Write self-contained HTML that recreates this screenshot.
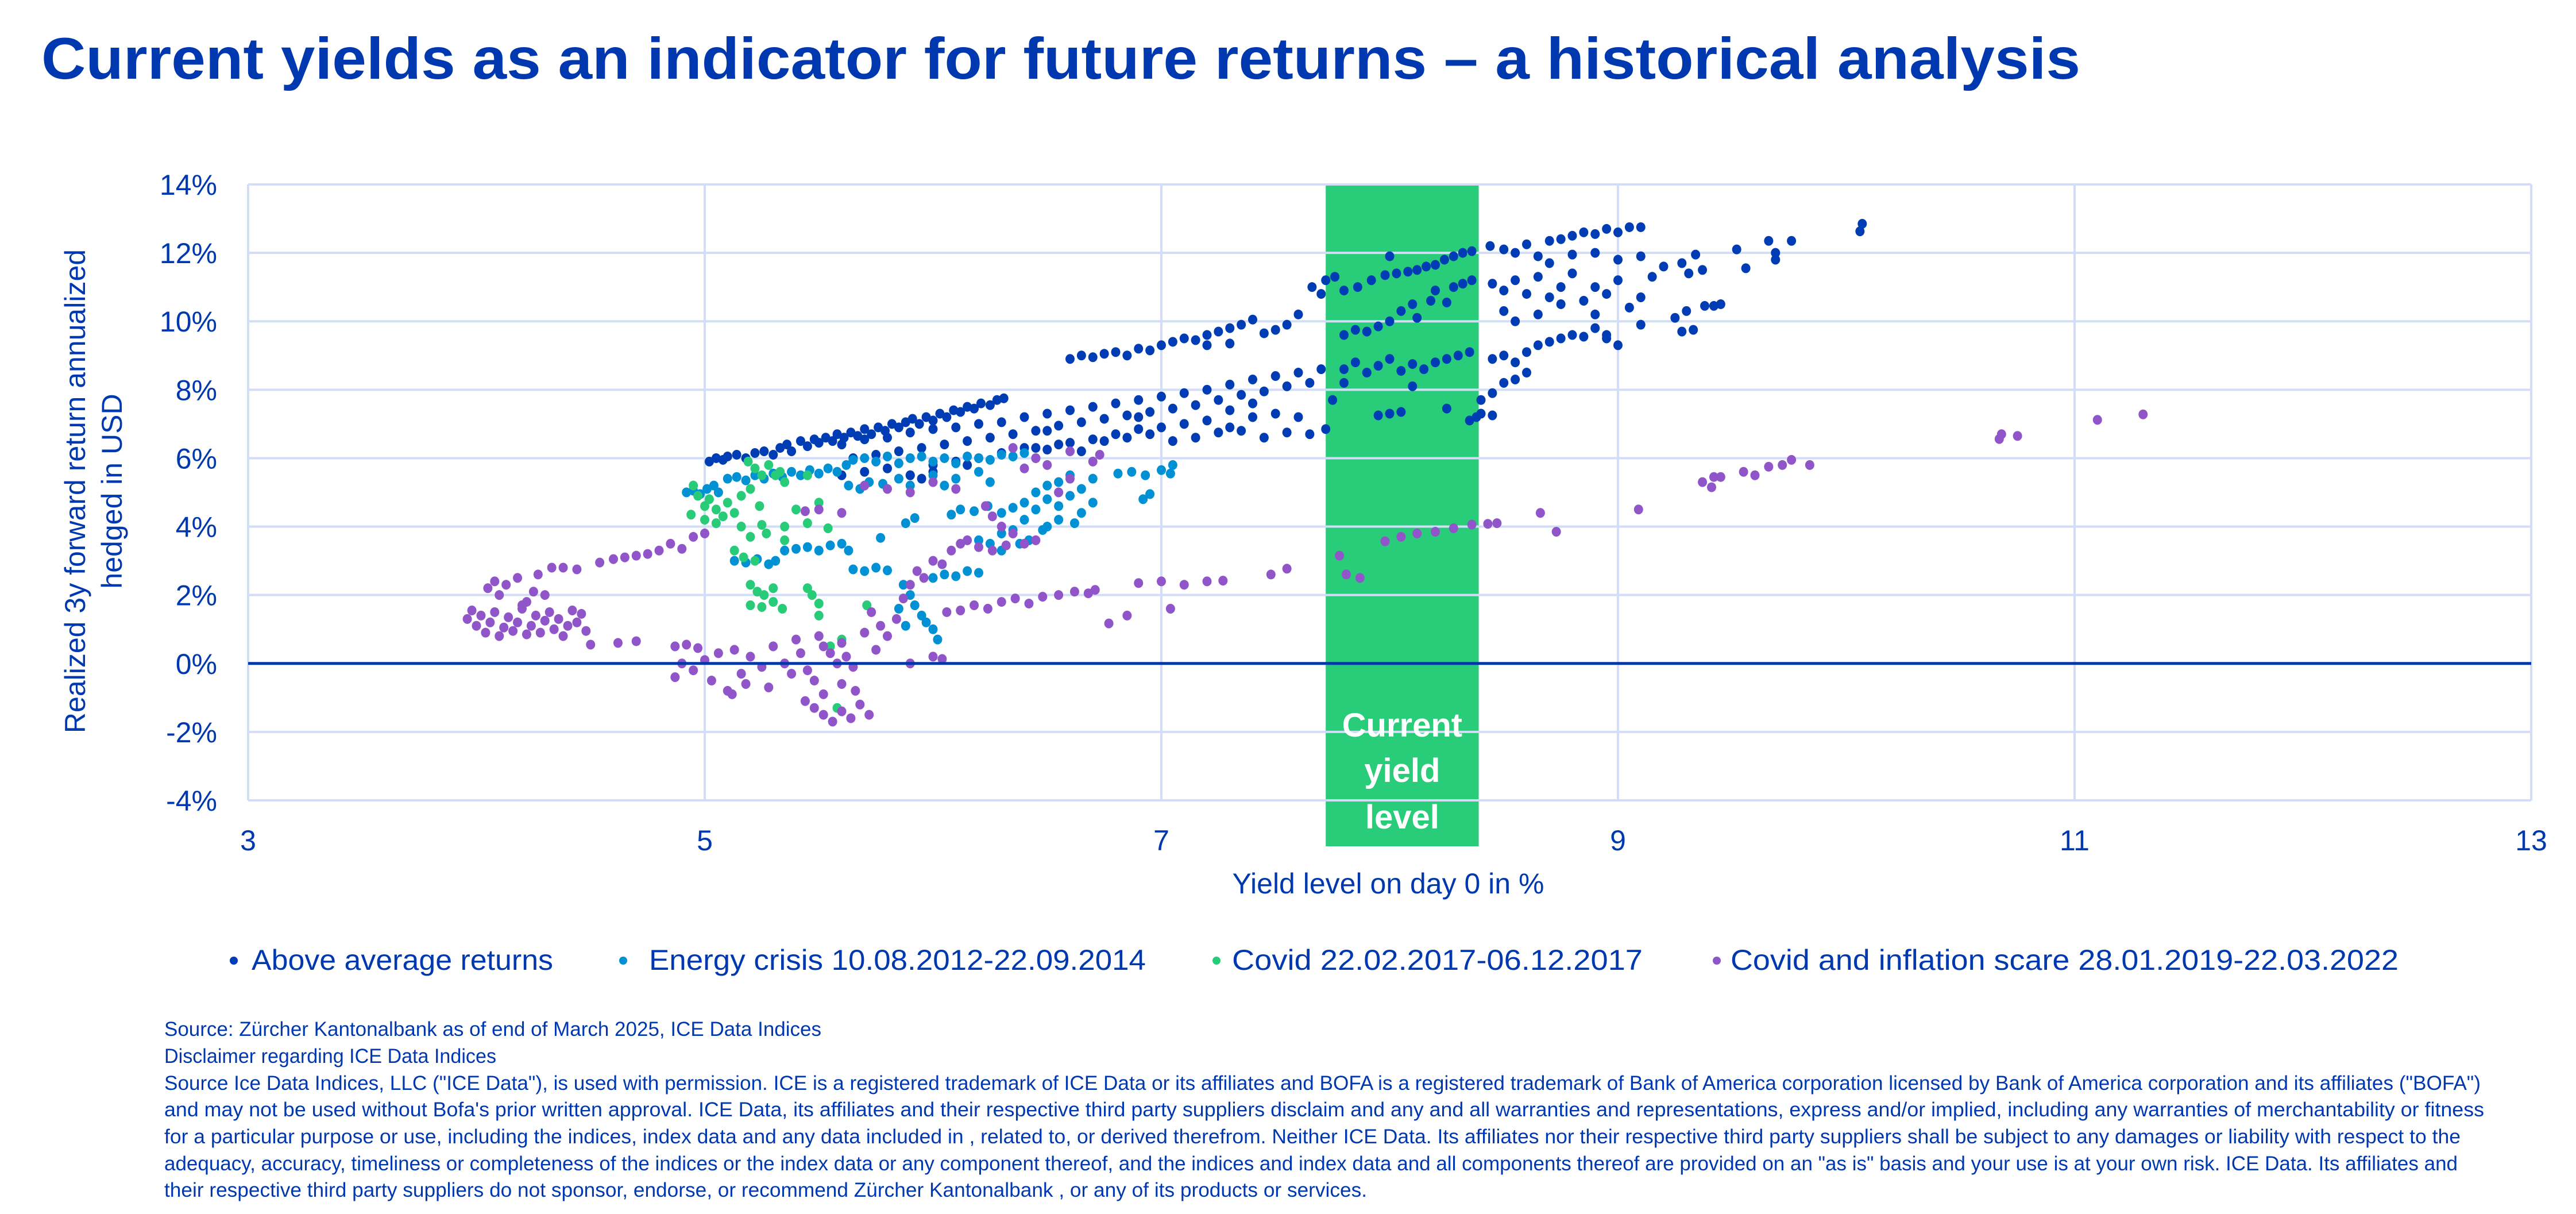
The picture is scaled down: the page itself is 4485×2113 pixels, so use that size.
<!DOCTYPE html>
<html><head><meta charset="utf-8"><style>
html,body{margin:0;padding:0;background:#fff;}
svg{display:block;font-family:"Liberation Sans",sans-serif;}
</style></head><body>
<svg id="chart" width="4485" height="2113" viewBox="0 0 4485 2113" xmlns="http://www.w3.org/2000/svg">
<text x="72" y="137" font-size="102" font-weight="bold" fill="#0038b0" textLength="3550" lengthAdjust="spacingAndGlyphs">Current yields as an indicator for future returns – a historical analysis</text>
<g id="grid"></g>
<rect id="band" fill="#29cc78"></rect>
<g id="gridOver"></g>
<g id="points"></g>
<line id="zeroLine" stroke="#0036a8" stroke-width="5"></line>
<g id="bandText" font-size="58" font-weight="bold" fill="#fff" text-anchor="middle"></g>
<g id="ticks" fill="#0038b0" font-size="50"></g>
<text x="2417" y="1555" font-size="50" fill="#0038b0" text-anchor="middle">Yield level on day 0 in %</text>
<g transform="translate(0,855) rotate(-90)" fill="#0038b0" font-size="50" text-anchor="middle">
<text x="0" y="148">Realized 3y forward return annualized</text>
<text x="0" y="212">hedged in USD</text>
</g>
<g font-size="50" fill="#0038b0">
<g><circle cx="407" cy="1672" r="7" fill="#003cb4"/><text x="438" y="1688" textLength="525" lengthAdjust="spacingAndGlyphs">Above average returns</text></g>
<g><circle cx="1085" cy="1672" r="7" fill="#0090d4"/><text x="1130" y="1688" textLength="865" lengthAdjust="spacingAndGlyphs">Energy crisis 10.08.2012-22.09.2014</text></g>
<g><circle cx="2118" cy="1672" r="7" fill="#28cc78"/><text x="2145" y="1688" textLength="715" lengthAdjust="spacingAndGlyphs">Covid 22.02.2017-06.12.2017</text></g>
<g><circle cx="2989" cy="1672" r="7" fill="#9055c8"/><text x="3013" y="1688" textLength="1163" lengthAdjust="spacingAndGlyphs">Covid and inflation scare 28.01.2019-22.03.2022</text></g>
</g>
<g font-size="35" fill="#0038b0">
<text x="286" y="1803" textLength="1144" lengthAdjust="spacingAndGlyphs">Source: Zürcher Kantonalbank as of end of March 2025, ICE Data Indices</text>
<text x="286" y="1850" textLength="578" lengthAdjust="spacingAndGlyphs">Disclaimer regarding ICE Data Indices</text>
<text x="286" y="1897" textLength="4033" lengthAdjust="spacingAndGlyphs">Source Ice Data Indices, LLC ("ICE Data"), is used with permission. ICE is a registered trademark of ICE Data or its affiliates and BOFA is a registered trademark of Bank of America corporation licensed by Bank of America corporation and its affiliates ("BOFA")</text>
<text x="286" y="1943" textLength="4039" lengthAdjust="spacingAndGlyphs">and may not be used without Bofa's prior written approval. ICE Data, its affiliates and their respective third party suppliers disclaim and any and all warranties and representations, express and/or implied, including any warranties of merchantability or fitness</text>
<text x="286" y="1990" textLength="3998" lengthAdjust="spacingAndGlyphs">for a particular purpose or use, including the indices, index data and any data included in , related to, or derived therefrom. Neither ICE Data. Its affiliates nor their respective third party suppliers shall be subject to any damages or liability with respect to the</text>
<text x="286" y="2037" textLength="3993" lengthAdjust="spacingAndGlyphs">adequacy, accuracy, timeliness or completeness of the indices or the index data or any component thereof, and the indices and index data and all components thereof are provided on an "as is" basis and your use is at your own risk. ICE Data. Its affiliates and</text>
<text x="286" y="2083" textLength="2094" lengthAdjust="spacingAndGlyphs">their respective third party suppliers do not sponsor, endorse, or recommend Zürcher Kantonalbank , or any of its products or services.</text>
</g>
</svg>
<script>
const xTicks = [3, 5, 7, 9, 11, 13];
const yTicks = [-4, -2, 0, 2, 4, 6, 8, 10, 12, 14];
const bandRange = [7.72, 8.39];
const aboveAvg = [
[5.02,5.9],[5.05,6.0],[5.08,5.95],[5.1,6.05],[5.14,6.1],[5.18,6.0],[5.22,6.15],[5.26,6.2],[5.3,6.1],[5.33,6.3],[5.36,6.4],[5.38,6.2],[5.42,6.5],[5.45,6.35],[5.48,6.55],[5.5,6.45],[5.53,6.6],[5.56,6.5],[5.58,6.7],[5.61,6.6],[5.64,6.75],[5.67,6.65],[5.7,6.85],[5.73,6.7],[5.76,6.9],[5.79,6.8],[5.82,7.0],[5.85,6.9],[5.88,7.05],[5.91,7.15],[5.94,7.0],[5.97,7.2],[6.0,7.1],[6.03,7.3],[6.06,7.2],[6.09,7.4],[6.12,7.35],[6.15,7.5],[6.18,7.45],[6.21,7.6],[6.25,7.55],[6.28,7.7],[6.31,7.75],
[5.6,6.4],[5.7,6.55],[5.8,6.6],[5.9,6.75],[6.0,6.85],[6.1,6.9],[6.2,7.0],[6.3,7.05],[6.4,7.2],[6.5,7.3],[6.6,7.4],[6.7,7.5],[6.8,7.6],[6.9,7.7],[7.0,7.8],[7.1,7.9],[7.2,8.0],[7.3,8.15],[7.4,8.3],[7.5,8.4],[7.6,8.5],[7.7,8.6],
[5.65,6.0],[5.75,6.1],[5.85,6.2],[5.95,6.3],[6.05,6.4],[6.15,6.5],[6.25,6.6],[6.35,6.7],[6.45,6.8],[6.55,6.95],[6.65,7.05],[6.75,7.15],[6.85,7.25],[6.95,7.35],[7.05,7.45],[7.15,7.55],[7.25,7.7],[7.35,7.85],[7.45,7.95],[7.55,8.1],[7.65,8.2],
[5.6,5.5],[5.7,5.6],[5.8,5.7],[5.9,5.5],[6.0,5.8],[6.1,5.9],[6.2,6.0],[6.3,6.15],[6.4,6.3],[6.5,6.25],[6.6,6.45],[6.7,6.55],[6.8,6.7],[6.9,6.85],[7.0,6.9],[7.1,7.0],[7.2,7.1],[7.3,6.9],[7.4,7.2],[7.5,7.3],[7.6,7.2],
[6.45,6.3],[6.55,6.4],[6.65,6.2],[6.75,6.5],[6.85,6.6],[6.95,6.7],[7.05,6.5],[7.15,6.6],[7.25,6.75],[7.35,6.8],[7.45,6.6],[7.55,6.75],[7.65,6.7],[7.72,6.85],
[5.9,5.5],[5.95,5.4],[6.0,5.6],[6.15,5.8],[6.5,6.8],[6.9,7.2],[7.3,7.4],[7.4,7.6],
[7.8,8.6],[7.85,8.8],[7.9,8.5],[7.95,8.7],[8.0,8.9],[8.05,8.55],[8.1,8.75],[8.15,8.6],[8.2,8.8],[8.25,8.9],[8.3,9.0],[8.35,9.1],
[7.75,7.7],[7.95,7.25],[8.0,7.3],[8.05,7.35],[8.25,7.45],[8.35,7.1],[8.38,7.2],[8.4,7.7],[7.8,8.2],[8.1,8.1],
[7.8,9.6],[7.85,9.75],[7.9,9.7],[7.95,9.85],[8.0,10.0],[8.05,10.3],[8.1,10.5],[8.12,10.1],[8.18,10.6],[8.2,10.9],[8.25,10.55],[8.28,11.0],[8.32,11.1],[8.36,11.2],
[7.66,11.0],[7.7,10.8],[7.72,11.2],[7.76,11.3],[7.8,10.9],[7.86,11.0],[7.92,11.2],[7.98,11.35],[8.03,11.4],[8.08,11.45],[8.12,11.5],[8.16,11.6],[8.2,11.65],[8.24,11.8],[8.28,11.9],[8.32,12.0],[8.36,12.05],[8.0,11.9],
[6.6,8.9],[6.65,9.0],[6.7,8.95],[6.75,9.05],[6.8,9.1],[6.85,9.0],[6.9,9.2],[6.95,9.15],[7.0,9.3],[7.05,9.4],[7.1,9.5],[7.15,9.45],[7.2,9.6],[7.25,9.7],[7.3,9.8],[7.35,9.9],[7.4,10.05],[7.45,9.65],[7.5,9.75],[7.55,9.9],[7.6,10.2],[7.2,9.3],[7.3,9.35],
[8.44,12.2],[8.5,12.1],[8.55,12.0],[8.6,12.25],[8.65,11.9],[8.7,12.35],[8.75,12.4],[8.8,12.5],[8.85,12.6],[8.9,12.55],[8.95,12.7],[9.0,12.6],[9.05,12.75],[9.1,12.75],[8.7,11.7],[8.8,11.95],[8.9,12.0],[9.0,11.8],[9.1,11.9],
[8.45,11.1],[8.5,10.9],[8.55,11.2],[8.6,10.8],[8.65,11.3],[8.7,10.7],[8.75,11.0],[8.8,11.4],[8.85,10.6],[8.9,11.0],[8.95,10.8],[9.0,11.2],[9.05,10.4],[9.1,10.7],[9.15,11.3],[9.2,11.6],[8.5,10.3],[8.55,10.0],[8.65,10.2],[8.75,10.5],[8.9,10.2],[9.0,9.3],[8.95,9.5],[9.1,9.9],
[8.45,8.9],[8.5,9.0],[8.55,8.8],[8.6,9.1],[8.65,9.3],[8.7,9.4],[8.75,9.5],[8.8,9.6],[8.85,9.55],[8.9,9.8],[8.95,9.6],[8.45,7.9],[8.5,8.2],[8.55,8.3],[8.6,8.5],[8.4,7.3],[8.45,7.25],
[9.25,10.1],[9.28,9.7],[9.33,9.75],[9.3,10.3],[9.38,10.45],[9.42,10.45],[9.45,10.5],[9.28,11.7],[9.31,11.4],[9.34,11.95],[9.37,11.5],[9.52,12.1],[9.56,11.55],[9.66,12.35],[9.69,12.0],[9.69,11.8],[9.76,12.35],[10.06,12.63],[10.07,12.85]
];
const energyCrisis = [
[4.92,5.0],[4.95,5.05],[4.98,4.95],[5.01,5.1],[5.04,5.2],[5.06,5.0],[5.1,5.4],[5.14,5.45],[5.18,5.35],[5.22,5.5],[5.26,5.4],[5.3,5.55],[5.34,5.45],[5.38,5.6],[5.42,5.5],[5.46,5.65],[5.5,5.55],[5.54,5.7],[5.58,5.6],[5.62,5.8],[5.65,5.95],[5.7,6.0],[5.75,5.9],[5.8,6.05],[5.85,5.85],[5.9,6.0],[5.95,6.05],[6.0,5.9],[6.05,6.0],[6.1,5.85],[6.15,6.05],[6.2,6.0],[6.25,5.95],[6.3,6.1],[6.35,6.05],[6.4,6.15],[6.45,6.0],[5.63,5.2],[5.68,5.1],[5.72,5.3],[5.78,5.25],[5.85,5.4],[5.9,5.2],[6.0,5.5],[6.05,5.2],[6.1,5.4],[6.2,5.6],[6.25,5.3],
[6.08,4.35],[6.12,4.5],[6.18,4.45],[6.24,4.6],[6.3,4.4],[6.35,4.55],[6.4,4.7],[6.45,4.5],[6.5,4.8],[6.55,4.6],[6.6,4.9],[6.65,4.4],[6.7,4.7],[6.45,5.0],[6.5,5.2],[6.55,5.3],[6.6,5.5],[6.65,5.1],[6.7,5.4],[6.4,4.2],[6.5,4.0],[6.35,3.9],[6.42,3.6],[6.38,3.5],
[6.81,5.55],[6.87,5.6],[6.93,5.5],[7.0,5.65],[7.04,5.55],[6.95,4.95],[6.92,4.8],[7.05,5.8],
[5.13,3.0],[5.18,2.95],[5.23,3.05],[5.28,2.9],[5.31,3.0],[5.35,3.3],[5.4,3.35],[5.45,3.4],[5.5,3.3],[5.55,3.45],[5.6,3.5],[5.63,3.3],[5.65,2.75],[5.7,2.7],[5.75,2.8],[5.8,2.72],[5.77,3.67],[5.88,4.1],[5.92,4.25],[6.0,2.5],[6.05,2.6],[6.1,2.55],[6.15,2.7],[6.2,2.65],[5.87,2.3],[5.9,2.0],[5.92,1.7],[5.95,1.4],[5.97,1.2],[6.0,1.0],[6.02,0.7],[5.85,1.6],[5.88,1.1],
[6.2,3.6],[6.25,3.5],[6.3,3.8],[6.48,3.9],[6.55,4.2],[6.62,4.1],[6.3,3.3]
];
const covid = [
[4.95,5.2],[4.97,4.9],[5.0,4.6],[5.02,4.8],[5.05,4.5],[5.08,4.3],[5.1,4.7],[5.13,4.4],[5.16,4.9],[5.19,5.9],[5.22,5.7],[5.25,5.5],[5.28,5.8],[5.31,5.5],[5.33,5.6],[5.24,4.6],[5.2,5.1],[4.94,4.35],[5.0,4.2],[5.05,4.1],[5.16,4.0],[5.25,4.05],[5.35,4.0],[5.45,4.1],[5.54,3.95],[5.2,3.7],[5.27,3.8],[5.35,3.6],[5.13,3.3],[5.17,3.1],[5.22,3.0],[5.2,2.3],[5.23,2.1],[5.26,2.0],[5.3,2.2],[5.2,1.7],[5.25,1.65],[5.3,1.8],[5.34,1.6],[5.45,2.2],[5.47,2.0],[5.5,1.75],[5.5,1.4],[5.71,1.7],[5.4,4.5],[5.5,4.7],[5.35,5.3],[5.45,5.5],[5.6,0.7],[5.55,0.5],[5.58,-1.3]
];
const covidInflation = [
[3.96,1.3],[3.98,1.55],[4.0,1.1],[4.02,1.4],[4.04,0.9],[4.06,1.2],[4.08,1.5],[4.1,0.8],[4.12,1.05],[4.14,1.35],[4.16,0.95],[4.18,1.2],[4.2,1.6],[4.22,0.85],[4.24,1.1],[4.26,1.4],[4.28,0.9],[4.3,1.25],[4.32,1.5],[4.34,1.0],[4.36,1.3],[4.38,0.8],[4.4,1.1],[4.42,1.55],[4.44,1.2],[4.46,1.45],[4.48,0.95],[4.05,2.2],[4.08,2.4],[4.1,2.0],[4.13,2.3],[4.18,2.5],[4.22,1.8],[4.25,2.1],[4.27,2.6],[4.3,2.0],[4.2,1.7],
[4.33,2.8],[4.38,2.8],[4.44,2.75],[4.54,2.95],[4.6,3.05],[4.65,3.1],[4.7,3.15],[4.75,3.2],[4.8,3.3],[4.85,3.5],[4.9,3.35],[4.95,3.7],[5.0,3.8],[4.5,0.55],[4.62,0.6],[4.7,0.65],[4.87,0.5],[4.92,0.55],[4.97,0.45],
[4.87,-0.4],[4.9,0.0],[4.95,-0.2],[5.0,0.1],[5.03,-0.5],[5.06,0.3],[5.1,-0.8],[5.13,0.4],[5.16,-0.3],[5.2,0.2],[5.25,-0.1],[5.3,0.5],[5.35,0.0],[5.4,0.7],[5.45,-0.2],[5.5,0.8],[5.55,0.3],[5.6,0.6],[5.65,-0.1],[5.7,0.9],[5.75,0.4],[5.12,-0.9],[5.18,-0.6],[5.28,-0.7],[5.38,-0.3],[5.48,-0.5],[5.44,-1.1],[5.48,-1.3],[5.52,-1.5],[5.56,-1.7],[5.6,-1.4],[5.64,-1.6],[5.68,-1.2],[5.72,-1.5],[5.52,-0.9],[5.6,-0.6],[5.66,-0.8],[5.58,0.0],[5.62,0.2],[5.52,0.5],[5.42,0.3],
[5.73,1.5],[5.77,1.1],[5.8,0.8],[5.84,1.3],[5.87,1.9],[5.9,2.3],[5.93,2.7],[5.96,2.5],[6.0,3.0],[6.04,2.9],[6.08,3.3],[6.12,3.5],[6.15,3.6],[6.2,3.4],[6.26,3.3],[6.32,3.45],[6.4,3.5],[6.0,0.2],[6.04,0.13],[5.9,0.0],
[6.23,4.6],[6.26,4.3],[6.3,4.0],[6.35,3.8],[6.45,3.6],[6.35,6.3],[6.4,5.7],[6.45,6.0],[6.5,5.8],[6.6,6.2],[6.7,5.9],[6.73,6.1],[6.6,5.4],[6.55,5.0],
[5.44,4.45],[5.5,4.5],[5.6,4.4],[5.7,5.2],[5.8,5.1],[5.9,5.0],[6.0,5.3],[6.1,5.1],
[6.06,1.5],[6.12,1.55],[6.18,1.7],[6.24,1.6],[6.3,1.8],[6.36,1.9],[6.42,1.75],[6.48,1.95],[6.55,2.0],[6.62,2.1],[6.68,2.05],[6.71,2.15],[6.77,1.17],[6.85,1.4],[7.04,1.6],[6.9,2.35],[7.0,2.4],[7.1,2.3],[7.2,2.4],[7.27,2.42],[7.48,2.6],[7.55,2.77],
[7.78,3.15],[7.81,2.6],[7.87,2.5],[7.98,3.57],[8.05,3.7],[8.12,3.8],[8.2,3.85],[8.28,3.95],[8.36,4.06],[8.43,4.08],[8.47,4.1],[8.66,4.4],[8.73,3.85],[9.09,4.5],[9.37,5.3],[9.41,5.15],[9.42,5.45],[9.45,5.45],[9.55,5.6],[9.6,5.5],[9.66,5.75],[9.72,5.8],[9.76,5.95],[9.84,5.8],[10.67,6.56],[10.68,6.7],[10.75,6.65],[11.1,7.12],[11.3,7.28]
];
const seriesColors = ['#003cb4', '#0090d4', '#28cc78', '#9055c8'];

const NS = 'http://www.w3.org/2000/svg';
const plotL = 432, plotR = 4407, plotT = 321, plotB = 1393;
const xMin = 3, xMax = 13, yMin = -4, yMax = 14;
function xs(v){ return plotL + (v - xMin) / (xMax - xMin) * (plotR - plotL); }
function ys(v){ return plotB - (v - yMin) / (yMax - yMin) * (plotB - plotT); }
function mk(tag, attrs, parent){ const e = document.createElementNS(NS, tag); for (const k in attrs) e.setAttribute(k, attrs[k]); parent.appendChild(e); return e; }

const grid = document.getElementById('grid');
const gridOver = document.getElementById('gridOver');
yTicks.forEach(t => {
  const l = mk('line', {x1: plotL, x2: plotR, y1: ys(t), y2: ys(t), stroke: '#d3ddf7', 'stroke-width': 4}, grid);
  
  
  const l2 = mk('line', {x1: xs(bandRange[0]), x2: xs(bandRange[1]), y1: ys(t), y2: ys(t), stroke: '#d3ddf7', 'stroke-width': 4}, gridOver);
  
  
});
xTicks.forEach(t => {
  const l = mk('line', {x1: xs(t), x2: xs(t), y1: plotT, y2: plotB, stroke: '#d3ddf7', 'stroke-width': 4}, grid);
  
  
});
const band = document.getElementById('band');
band.setAttribute('x', xs(bandRange[0]));
band.setAttribute('width', xs(bandRange[1]) - xs(bandRange[0]));
band.setAttribute('y', plotT + 2);
band.setAttribute('height', 1473 - plotT - 2);

const pts = document.getElementById('points');
[aboveAvg, energyCrisis, covid, covidInflation].forEach((s, i) => {
  s.forEach(p => {
    const c = mk('ellipse', {cx: xs(p[0]), cy: ys(p[1]), rx: 8, ry: 8.5, fill: seriesColors[i]}, pts);
    
    
  });
});
const z = document.getElementById('zeroLine');
z.setAttribute('x1', plotL); z.setAttribute('x2', plotR);
z.setAttribute('y1', ys(0)); z.setAttribute('y2', ys(0));

const bt = document.getElementById('bandText');
const bx = (xs(bandRange[0]) + xs(bandRange[1])) / 2;
[['Current', 1282], ['yield', 1361], ['level', 1442]].forEach(a => {
  const t = mk('text', {x: bx, y: a[1]}, bt);
  t.textContent = a[0];
  
  
});

const tk = document.getElementById('ticks');
yTicks.forEach(t => {
  const e = mk('text', {x: 378, y: ys(t) + 18, 'text-anchor': 'end'}, tk);
  e.textContent = t + '%';
  
  
});
xTicks.forEach(t => {
  const e = mk('text', {x: xs(t), y: 1480, 'text-anchor': 'middle'}, tk);
  e.textContent = String(t);
  
  
});
</script>
</body></html>
